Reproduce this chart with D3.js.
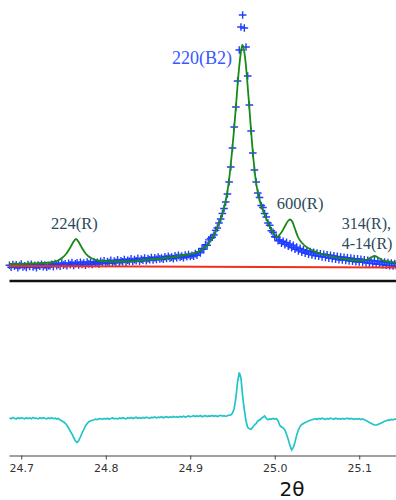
<!DOCTYPE html>
<html>
<head>
<meta charset="utf-8">
<script src="https://cdn.jsdelivr.net/npm/d3@7"></script>
<style>
  body { margin: 0; background: #fff; }
  svg { display: block; }
</style>
</head>
<body>
<div id="chart"></div>
<script>
// observed pattern: 2theta grid and intensities
const obsTT = [
  24.686, 24.688, 24.690, 24.692, 24.694, 24.696, 24.698, 24.700, 24.702, 24.704,
  24.706, 24.708, 24.710, 24.712, 24.714, 24.716, 24.718, 24.720, 24.722, 24.724,
  24.726, 24.728, 24.730, 24.732, 24.734, 24.736, 24.738, 24.740, 24.742, 24.744,
  24.746, 24.748, 24.750, 24.752, 24.754, 24.756, 24.758, 24.760, 24.762, 24.764,
  24.766, 24.768, 24.770, 24.772, 24.774, 24.776, 24.778, 24.780, 24.782, 24.784,
  24.786, 24.788, 24.790, 24.792, 24.794, 24.796, 24.798, 24.800, 24.802, 24.804,
  24.806, 24.808, 24.810, 24.812, 24.814, 24.816, 24.818, 24.820, 24.822, 24.824,
  24.826, 24.828, 24.830, 24.832, 24.834, 24.836, 24.838, 24.840, 24.842, 24.844,
  24.846, 24.848, 24.850, 24.852, 24.854, 24.856, 24.858, 24.860, 24.862, 24.864,
  24.866, 24.868, 24.870, 24.872, 24.874, 24.876, 24.878, 24.880, 24.882, 24.884,
  24.886, 24.888, 24.890, 24.892, 24.894, 24.896, 24.898, 24.900, 24.902, 24.904,
  24.906, 24.908, 24.910, 24.912, 24.914, 24.916, 24.918, 24.920, 24.922, 24.924,
  24.926, 24.928, 24.930, 24.932, 24.934, 24.936, 24.938, 24.940, 24.942, 24.944,
  24.946, 24.948, 24.950, 24.952, 24.954, 24.956, 24.958, 24.960, 24.962, 24.964,
  24.966, 24.968, 24.970, 24.972, 24.974, 24.976, 24.978, 24.980, 24.982, 24.984,
  24.986, 24.988, 24.990, 24.992, 24.994, 24.996, 24.998, 25.000, 25.002, 25.004,
  25.006, 25.008, 25.010, 25.012, 25.014, 25.016, 25.018, 25.020, 25.022, 25.024,
  25.026, 25.028, 25.030, 25.032, 25.034, 25.036, 25.038, 25.040, 25.042, 25.044,
  25.046, 25.048, 25.050, 25.052, 25.054, 25.056, 25.058, 25.060, 25.062, 25.064,
  25.066, 25.068, 25.070, 25.072, 25.074, 25.076, 25.078, 25.080, 25.082, 25.084,
  25.086, 25.088, 25.090, 25.092, 25.094, 25.096, 25.098, 25.100, 25.102, 25.104,
  25.106, 25.108, 25.110, 25.112, 25.114, 25.116, 25.118, 25.120, 25.122, 25.124,
  25.126, 25.128, 25.130, 25.132, 25.134, 25.136, 25.138, 25.140, 25.142, 25.144
];
const obsI = [
  218, 198, 225, 207, 221, 193, 214, 229, 201, 212,
  196, 224, 205, 227, 200, 216, 192, 220, 209, 226,
  203, 219, 197, 214, 210, 228, 204, 235, 213, 226,
  207, 240, 219, 231, 212, 238, 222, 245, 216, 233,
  241, 220, 247, 226, 239, 218, 250, 231, 244, 225,
  253, 236, 248, 229, 257, 240, 262, 235, 255, 244,
  266, 238, 259, 248, 271, 245, 263, 252, 275, 249,
  268, 257, 281, 255, 274, 262, 286, 258, 279, 267,
  290, 263, 284, 272, 295, 270, 292, 276, 299, 281,
  290, 277, 302, 285, 307, 289, 299, 284, 311, 294,
  316, 297, 309, 293, 320, 303, 324, 305, 318, 309,
  334, 318, 352, 341, 385, 376, 422, 418, 471, 486,
  498, 520, 566, 590, 640, 680, 735, 785, 850, 930,
  1050, 1200, 1390, 1600, 1800, 2060, 2370, 2600, 2720, 2590,
  2400, 2110, 1820, 1560, 1340, 1170, 1050, 940, 895, 815,
  795, 735, 700, 640, 618, 562, 548, 502, 496, 462,
  471, 438, 458, 424, 446, 409, 431, 392, 417, 378,
  399, 361, 386, 349, 372, 337, 360, 329, 354, 321,
  347, 312, 340, 308, 333, 301, 328, 296, 322, 289,
  317, 284, 311, 279, 306, 273, 301, 270, 297, 266,
  292, 261, 289, 258, 284, 253, 281, 250, 277, 247,
  272, 241, 268, 239, 265, 234, 261, 230, 257, 228,
  252, 222, 249, 218, 244, 214, 240, 211, 235, 207
];
// difference curve (obs - calc) on the same grid
const diffI = [
  0, -8, 5, -3, -10, 2, -6, 4, -2, -9,
  3, -5, 1, -7, 6, -4, -1, -9, 2, -6,
  4, -3, -8, 1, -5, 3, -7, -2, -10, -4,
  -20, -28, -40, -52, -72, -100, -132, -160, -195, -228,
  -245, -225, -190, -150, -115, -80, -55, -38, -30, -22,
  -18, -12, -15, -8, -6, -14, -4, -10, -2, -12,
  -5, 1, -8, -3, -11, 0, -6, 3, -4, -9,
  2, -3, 5, -5, 1, 7, -2, 4, -4, 6,
  0, 9, 2, -3, 7, 3, 11, 1, 8, 4,
  12, 2, 9, 14, 5, 11, 7, 16, 8, 13,
  6, 15, 10, 18, 9, 14, 20, 12, 17, 23,
  14, 21, 16, 25, 13, 19, 24, 15, 22, 18,
  26, 17, 23, 14, 21, 27, 19, 24, 16, 22,
  28, 30, 50, 95, 200, 360, 455, 400, 220, 80,
  -30, -95, -108, -112, -90, -70, -55, -30, -20, -5,
  8, 20, -5, -18, -8, -12, -4, -10, -6, -30,
  -75, -90, -100, -120, -165, -215, -275, -320, -295, -240,
  -170, -120, -85, -65, -55, -45, -38, -30, -22, -18,
  -12, -6, -15, -4, -11, -2, -9, -14, -5, -10,
  -1, -8, -13, -3, -9, -6, -12, -4, -10, -7,
  -2, -11, -5, -9, -14, -8, -12, -6, -16, -10,
  -18, -25, -35, -45, -52, -62, -68, -70, -66, -58,
  -50, -42, -30, -28, -20, -22, -14, -18, -10, -12
];
// calculated profile
const calcTT = [
  24.6855, 24.7104, 24.7340, 24.7423, 24.7482, 24.7530, 24.7577, 24.7613, 24.7648, 24.7683,
  24.7719, 24.7766, 24.7825, 24.7908, 24.8050, 24.8228, 24.8405, 24.8583, 24.8760, 24.8938,
  24.9056, 24.9151, 24.9222, 24.9281, 24.9328, 24.9376, 24.9411, 24.9441, 24.9470, 24.9494,
  24.9518, 24.9542, 24.9565, 24.9589, 24.9605, 24.9618, 24.9631, 24.9648, 24.9672, 24.9696,
  24.9719, 24.9749, 24.9778, 24.9814, 24.9849, 24.9897, 24.9956, 25.0027, 25.0074, 25.0122,
  25.0157, 25.0181, 25.0210, 25.0240, 25.0275, 25.0323, 25.0394, 25.0488, 25.0654, 25.0831,
  25.1009, 25.1092, 25.1139, 25.1181, 25.1222, 25.1269, 25.1340, 25.1435
];
const calcI = [
  230, 235, 245, 260, 290, 330, 390, 445, 480, 445,
  390, 330, 290, 265, 255, 255, 265, 280, 295, 320,
  340, 380, 440, 520, 610, 720, 830, 960, 1150, 1350,
  1570, 1820, 2070, 2280, 2380, 2420, 2390, 2300, 2090, 1830,
  1570, 1270, 1050, 890, 790, 690, 580, 500, 540, 610,
  660, 675, 650, 580, 500, 440, 390, 350, 310, 280,
  265, 275, 295, 310, 295, 270, 255, 245
];
// background
const bgTT = [24.6855, 25.1435];
const bgI = [210, 195];

// axis ticks
const xTicks = [24.7, 24.8, 24.9, 25.0, 25.1];
const xLabel = "2θ";

// reflection labels: [text, 2theta, intensity, anchor]
const peakLabels = [
  ["220(B2)", 24.9494, 2230, "end"],
  ["224(R)", 24.7630, 580, "middle"],
  ["600(R)", 25.0299, 780, "middle"],
  ["314(R),", 25.0793, 580, "start"],
  ["4-14(R)", 25.0793, 380, "start"]
];

const WIDTH = 396;
const HEIGHT = 500;
const X_LEFT = 9;
const X_RIGHT = 396;

const COLOR_OBS = "#1f3cff";
const COLOR_CALC = "#168a16";
const COLOR_BG = "#f0301e";
const COLOR_DIFF = "#22c4c8";
const COLOR_LABEL = "#2c4a5a";

const svg = d3.select("#chart")
  .append("svg")
  .attr("width", WIDTH)
  .attr("height", HEIGHT);

const x = d3.scaleLinear()
  .domain([24.6855, 25.1435])
  .range([X_LEFT, X_RIGHT]);

// top panel: intensity, bottom panel: difference
const yTop = d3.scaleLinear().domain([0, 2870]).range([287, 0]);
const yDiff = d3.scaleLinear().domain([-500, 500]).range([468, 368]);

const obs = obsTT.map((t, i) => ({ t: t, v: obsI[i] }));
const diff = obsTT.map((t, i) => ({ t: t, v: diffI[i] }));
const calc = calcTT.map((t, i) => ({ t: t, v: calcI[i] }));
const bg = bgTT.map((t, i) => ({ t: t, v: bgI[i] }));

// observed points as crosses
svg.append("g")
  .selectAll("path")
  .data(obs)
  .join("path")
  .attr("transform", d => `translate(${x(d.t)},${yTop(d.v)})`)
  .attr("d", "M-3.8,0H3.8M0,-3.8V3.8")
  .attr("stroke", COLOR_OBS)
  .attr("stroke-width", 1.4)
  .attr("fill", "none");

// calculated profile
svg.append("path")
  .datum(calc)
  .attr("fill", "none")
  .attr("stroke", COLOR_CALC)
  .attr("stroke-width", 1.8)
  .attr("d", d3.line().x(d => x(d.t)).y(d => yTop(d.v)).curve(d3.curveMonotoneX));

// background
svg.append("path")
  .datum(bg)
  .attr("fill", "none")
  .attr("stroke", COLOR_BG)
  .attr("stroke-width", 1.8)
  .attr("d", d3.line().x(d => x(d.t)).y(d => yTop(d.v)));

// separator line under top panel
const sep = svg.append("g")
  .attr("transform", "translate(0,280.5)")
  .call(d3.axisBottom(x).tickValues([]).tickSizeOuter(0));
sep.select(".domain").attr("stroke", "#111").attr("stroke-width", 2.5);

// difference curve
svg.append("path")
  .datum(diff)
  .attr("fill", "none")
  .attr("stroke", COLOR_DIFF)
  .attr("stroke-width", 1.7)
  .attr("d", d3.line().x(d => x(d.t)).y(d => yDiff(d.v)));

// bottom axis
const axis = svg.append("g")
  .attr("transform", "translate(0,455.5)")
  .call(d3.axisBottom(x)
    .tickValues(xTicks)
    .tickFormat(d3.format(".1f"))
    .tickSize(4)
    .tickPadding(5)
    .tickSizeOuter(0));
axis.select(".domain").attr("stroke", "#444").attr("stroke-width", 1.2);
axis.selectAll(".tick line").attr("stroke", "#444");
axis.selectAll(".tick text")
  .attr("fill", "#333")
  .style("font-family", "DejaVu Sans")
  .style("font-size", "11px");

svg.append("text")
  .attr("x", 292)
  .attr("y", 496)
  .attr("text-anchor", "middle")
  .style("font-family", "DejaVu Sans")
  .style("font-size", "20px")
  .attr("fill", "#111")
  .text(xLabel);

// peak labels
svg.append("g")
  .selectAll("text")
  .data(peakLabels)
  .join("text")
  .attr("x", d => x(d[1]))
  .attr("y", d => yTop(d[2]))
  .attr("text-anchor", d => d[3])
  .attr("fill", (d, i) => i === 0 ? "#3558ff" : COLOR_LABEL)
  .style("font-family", "Liberation Serif")
  .style("font-size", (d, i) => i === 0 ? "18px" : (i > 2 ? "16px" : "16.5px"))
  .text(d => d[0]);
</script>
</body>
</html>
